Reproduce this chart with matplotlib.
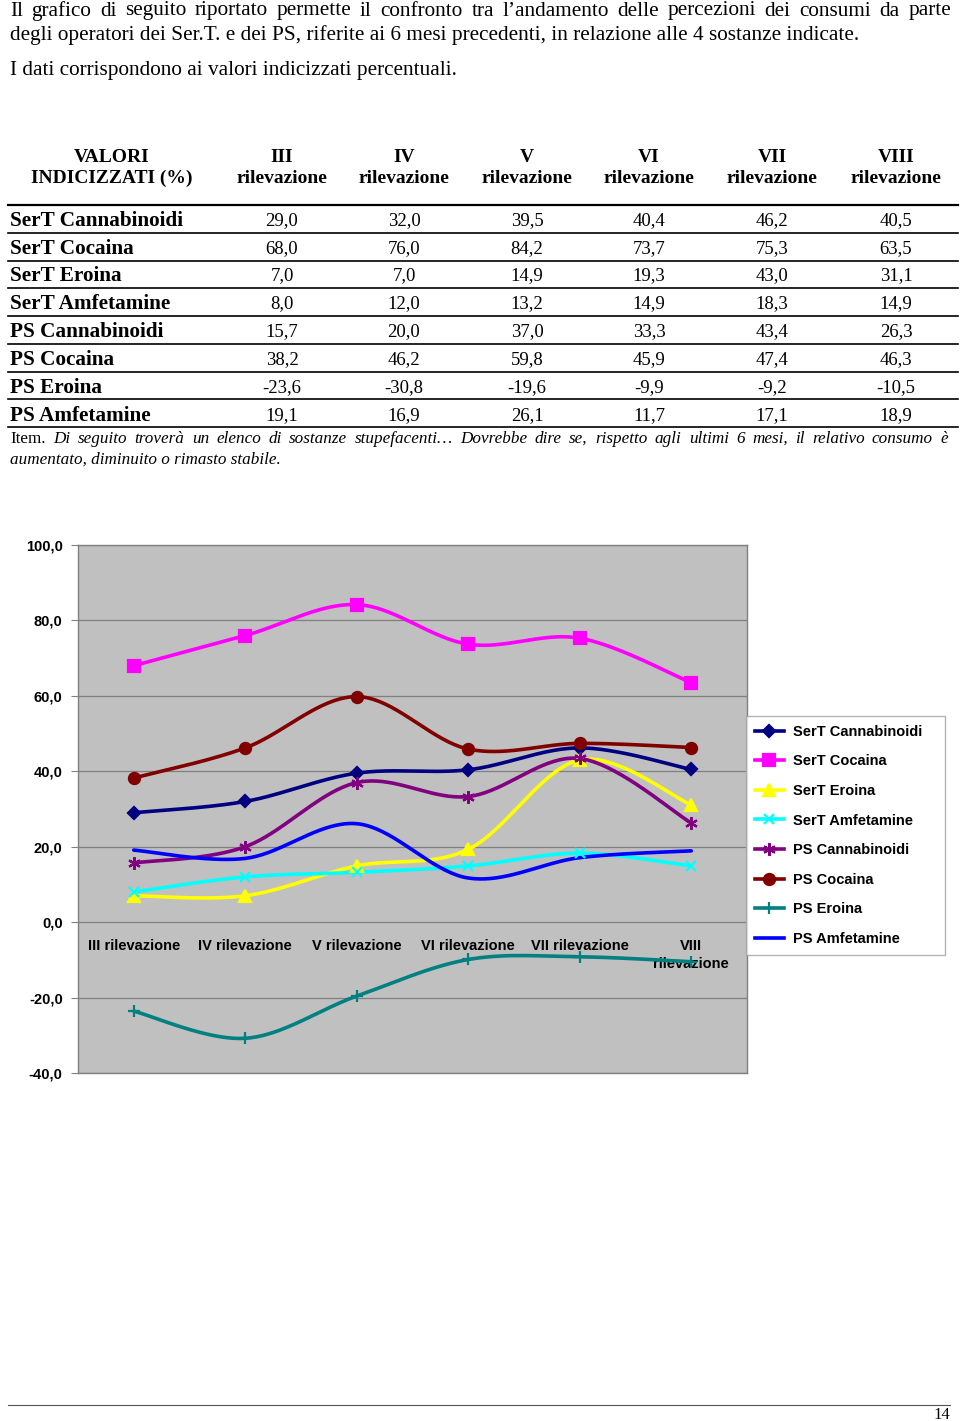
import numpy as np
import matplotlib
matplotlib.use('Agg')
import matplotlib.pyplot as plt
from matplotlib.lines import Line2D

# data
rilevazioni = ['III rilevazione', 'IV rilevazione', 'V rilevazione',
               'VI rilevazione', 'VII rilevazione', 'VIII\nrilevazione']
col_heads = ['III\nrilevazione', 'IV\nrilevazione', 'V\nrilevazione',
             'VI\nrilevazione', 'VII\nrilevazione', 'VIII\nrilevazione']
series_names = ['SerT Cannabinoidi', 'SerT Cocaina', 'SerT Eroina', 'SerT Amfetamine',
                'PS Cannabinoidi', 'PS Cocaina', 'PS Eroina', 'PS Amfetamine']
sert_cannabinoidi = [29.0, 32.0, 39.5, 40.4, 46.2, 40.5]
sert_cocaina = [68.0, 76.0, 84.2, 73.7, 75.3, 63.5]
sert_eroina = [7.0, 7.0, 14.9, 19.3, 43.0, 31.1]
sert_amfetamine = [8.0, 12.0, 13.2, 14.9, 18.3, 14.9]
ps_cannabinoidi = [15.7, 20.0, 37.0, 33.3, 43.4, 26.3]
ps_cocaina = [38.2, 46.2, 59.8, 45.9, 47.4, 46.3]
ps_eroina = [-23.6, -30.8, -19.6, -9.9, -9.2, -10.5]
ps_amfetamine = [19.1, 16.9, 26.1, 11.7, 17.1, 18.9]
all_series = [sert_cannabinoidi, sert_cocaina, sert_eroina, sert_amfetamine,
              ps_cannabinoidi, ps_cocaina, ps_eroina, ps_amfetamine]
y_ticks = [-40, -20, 0, 20, 40, 60, 80, 100]

# styles
colors = ['#000080', '#FF00FF', '#FFFF00', '#00FFFF', '#800080', '#800000', '#008080', '#0000FF']
markers = ['D', 's', '^', 'x', (6, 2, 0), 'o', '+', 'None']
msizes = [6, 8, 8, 7, 9, 8, 9, 0]

W, H = 960, 1421
SERIF = 'Liberation Serif'
SANS = 'Liberation Sans'


def px(x, y):
    """pixel coords (from top-left) -> figure coords"""
    return x / W, 1 - y / H


def justify(fig, text, x0, x1, y, **kw):
    """place the words of a line so that it fills x0..x1 (pixels)"""
    words = text.split()
    r = fig.canvas.get_renderer()
    arts, widths = [], []
    for w in words:
        t = fig.text(0, 0, w, ha='left', va='center', **kw)
        widths.append(t.get_window_extent(r).width)
        arts.append(t)
    gap = (x1 - x0 - sum(widths)) / (len(words) - 1)
    x = x0
    for t, wd in zip(arts, widths):
        t.set_position(px(x, y))
        x += wd + gap
    return arts


def smooth(vals, n=40):
    """Catmull-Rom curve through the points, like Excel's smoothed lines"""
    p = np.column_stack([np.arange(len(vals)), vals]).astype(float)
    pad = np.vstack([p[0], p, p[-1]])
    out = []
    t = np.linspace(0, 1, n)[:, None]
    for i in range(len(vals) - 1):
        p0, p1, p2, p3 = pad[i:i + 4]
        c1 = p1 + (p2 - p0) / 6
        c2 = p2 - (p3 - p1) / 6
        b = ((1 - t) ** 3) * p1 + 3 * ((1 - t) ** 2) * t * c1 + 3 * (1 - t) * t ** 2 * c2 + t ** 3 * p2
        out.append(b)
    out = np.vstack(out)
    return out[:, 0], out[:, 1]


def fmt(v):
    return ('%.1f' % v).replace('.', ',')


fig = plt.figure(figsize=(W / 100, H / 100), dpi=100)

# intro text
justify(fig, 'Il grafico di seguito riportato permette il confronto tra l\u2019andamento delle percezioni dei consumi da parte',
        10, 951, 11, family=SERIF, fontsize=15.3)
fig.text(*px(10, 35), 'degli operatori dei Ser.T. e dei PS, riferite ai 6 mesi precedenti, in relazione alle 4 sostanze indicate.',
         family=SERIF, fontsize=15.3, va='center', ha='left')
fig.text(*px(10, 71), 'I dati corrispondono ai valori indicizzati percentuali.',
         family=SERIF, fontsize=15.3, va='center', ha='left')

# table
col_x = [282, 404, 527, 649, 772, 896]
row_y = [221, 249, 276, 304, 332, 360, 388, 416]
rule_y = [205, 233, 261, 288, 316, 344, 372, 399, 427]
fig.text(*px(112, 168), 'VALORI\nINDICIZZATI (%)', family=SERIF, fontsize=14, weight='bold',
         ha='center', va='center', linespacing=1.25)
for cx, head in zip(col_x, col_heads):
    fig.text(*px(cx, 168), head, family=SERIF, fontsize=14, weight='bold',
             ha='center', va='center', linespacing=1.25)
for k, ry in enumerate(rule_y):
    x0, y0 = px(8, ry)
    x1, _ = px(958, ry)
    fig.add_artist(Line2D([x0, x1], [y0, y0], color='black', lw=1.6 if k == 0 else 1.2))
for name, vals, ry in zip(series_names, all_series, row_y):
    fig.text(*px(10, ry), name, family=SERIF, fontsize=15.3, weight='bold', ha='left', va='center')
    for cx, v in zip(col_x, vals):
        fig.text(*px(cx, ry), fmt(v), family=SERIF, fontsize=13.5, ha='center', va='center')

item = fig.text(*px(10, 439), 'Item.', family=SERIF, fontsize=12.3, ha='left', va='center')
justify(fig, 'Di seguito trover\u00e0 un elenco di sostanze stupefacenti\u2026 Dovrebbe dire se, rispetto agli ultimi 6 mesi, il relativo consumo \u00e8',
        53, 948, 439, family=SERIF, fontsize=12.3, style='italic')
fig.text(*px(10, 460), 'aumentato, diminuito o rimasto stabile.', family=SERIF, fontsize=12.3,
         style='italic', ha='left', va='center')

# chart
left, bottom = px(78, 1073)
right, top = px(747, 545)
ax = fig.add_axes([left, bottom, right - left, top - bottom])
ax.set_facecolor('#C0C0C0')
ax.set_xlim(-0.5, len(rilevazioni) - 0.5)
ax.set_ylim(-40, 100)
ax.set_yticks(y_ticks)
ax.set_yticklabels([fmt(v) for v in y_ticks], family=SANS, weight='bold', fontsize=10.5)
ax.set_xticks([])
ax.tick_params(axis='y', length=5, color='#808080', pad=6)
ax.yaxis.grid(True, color='#808080', lw=0.9)
ax.set_axisbelow(True)
for s in ax.spines.values():
    s.set_color('#808080')
    s.set_linewidth(1.0)

handles = []
for vals, c, m, ms, name in zip(all_series, colors, markers, msizes, series_names):
    sx, sy = smooth(vals)
    ax.plot(sx, sy, color=c, lw=2.6, solid_capstyle='round', zorder=3)
    if m != 'None':
        ax.plot(range(len(vals)), vals, ls='none', marker=m, ms=ms, color=c,
                mec=c, mew=1.6, zorder=4)
    handles.append(Line2D([], [], color=c, lw=2.6, marker=m, ms=ms, mec=c, mew=1.6, label=name))

for i, lab in enumerate(rilevazioni):
    ax.annotate(lab, (i, 0), xytext=(0, -12), textcoords='offset points', ha='center', va='top',
                family=SANS, weight='bold', fontsize=10.5, linespacing=1.4, zorder=2)

lx0, ly_top = px(746, 716)
lx1, ly_bot = px(945, 953)
leg = fig.legend(handles=handles, loc='upper left', bbox_to_anchor=(lx0, ly_bot, lx1 - lx0, ly_top - ly_bot),
                 mode='expand', frameon=True, fancybox=False, prop={'family': SANS, 'weight': 'bold', 'size': 10.5},
                 handlelength=2.0, handletextpad=0.6, labelspacing=1.07, borderpad=0.6, borderaxespad=0)
leg.get_frame().set_edgecolor('#A0A0A0')
leg.get_frame().set_linewidth(1.0)

# footer
x0, y0 = px(8, 1405)
x1, _ = px(950, 1405)
fig.add_artist(Line2D([x0, x1], [y0, y0], color='#555555', lw=0.8))
fig.text(*px(950, 1415), '14', family=SERIF, fontsize=12, ha='right', va='center')

fig.savefig('out.png', dpi=100)
